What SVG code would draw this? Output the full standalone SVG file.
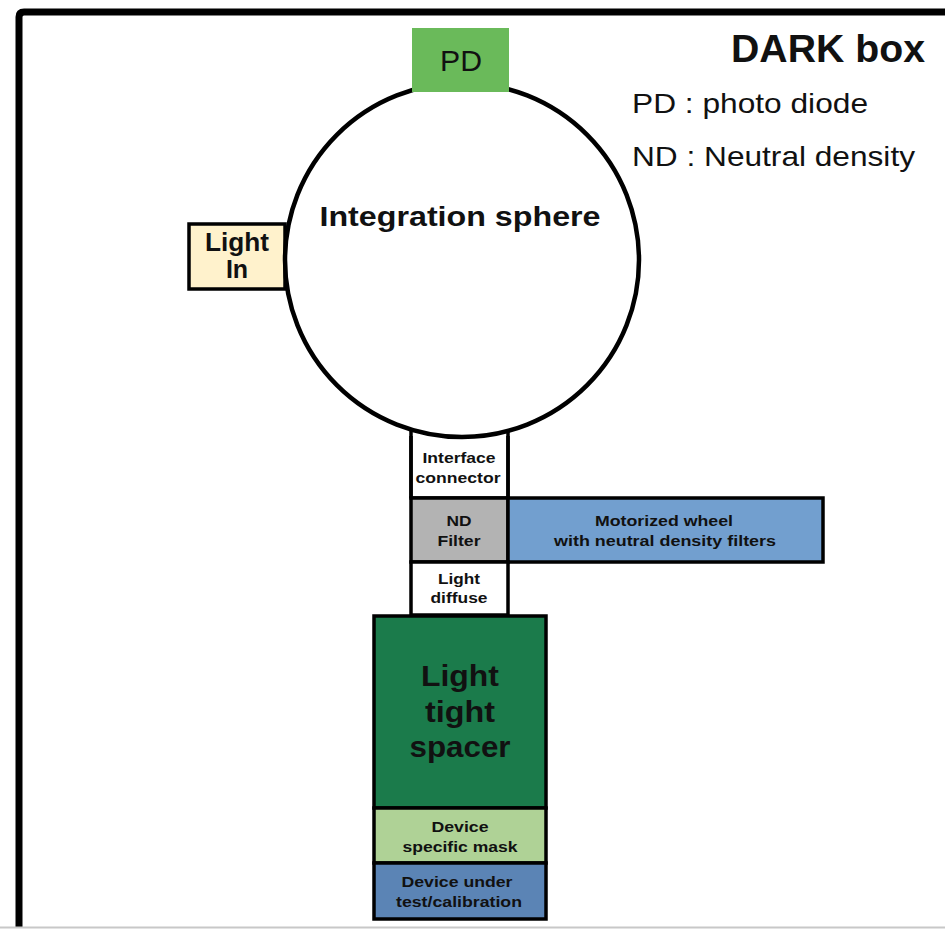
<svg xmlns="http://www.w3.org/2000/svg" width="945" height="929" viewBox="0 0 945 929">
  <style>
    text { font-family: "Liberation Sans", Arial, sans-serif; fill: #111; text-anchor: middle; }
    .b { font-weight: bold; }
    .box { stroke: #000; stroke-width: 3.5; }
    .legend { text-anchor: start; font-size: 28px; }
  </style>

  <rect x="0" y="0" width="945" height="929" fill="#fff"/>

  <!-- dark box enclosure -->
  <g id="frame">
    <path d="M19 927 V17 Q19 12 24 12 H945" fill="none" stroke="#000" stroke-width="7"/>
    <line x1="0" y1="927.5" x2="945" y2="927.5" stroke="#c8c8c8" stroke-width="2"/>
  </g>

  <!-- legend -->
  <g id="legend">
    <text class="b" x="731" y="62" style="text-anchor:start;font-size:38px" textLength="194" lengthAdjust="spacingAndGlyphs">DARK box</text>
    <text class="legend" x="632" y="113" textLength="236" lengthAdjust="spacingAndGlyphs">PD : photo diode</text>
    <text class="legend" x="632" y="166" textLength="283" lengthAdjust="spacingAndGlyphs">ND : Neutral density</text>
  </g>

  <!-- light input port -->
  <g id="light-in">
    <rect class="box" x="189" y="224" width="96" height="65" fill="#fff2cc"/>
    <text class="b" x="237" y="251" style="font-size:25px" textLength="64" lengthAdjust="spacingAndGlyphs">Light</text>
    <text class="b" x="237" y="278" style="font-size:25px">In</text>
  </g>

  <!-- interface connector (drawn under the sphere) -->
  <g id="interface-connector">
    <rect class="box" x="411" y="420" width="97" height="78" fill="#fff"/>
  </g>

  <!-- integration sphere -->
  <g id="integration-sphere">
    <circle cx="462" cy="260" r="177" fill="#fff" stroke="#000" stroke-width="4.5"/>
    <text class="b" x="460" y="226" style="font-size:27px" textLength="281" lengthAdjust="spacingAndGlyphs">Integration sphere</text>
  </g>

  <!-- photodiode -->
  <g id="pd">
    <rect x="412" y="28" width="97" height="64" fill="#6aba5a"/>
    <text x="461" y="71" style="font-size:29px" textLength="42" lengthAdjust="spacingAndGlyphs">PD</text>
  </g>

  <g id="interface-connector-label">
    <line x1="411" y1="436" x2="411" y2="498" stroke="#000" stroke-width="3.5"/>
    <line x1="508" y1="436" x2="508" y2="498" stroke="#000" stroke-width="3.5"/>
    <text class="b" x="459" y="463" style="font-size:15px" textLength="73" lengthAdjust="spacingAndGlyphs">Interface</text>
    <text class="b" x="458" y="483" style="font-size:15px" textLength="85" lengthAdjust="spacingAndGlyphs">connector</text>
  </g>

  <!-- ND filter -->
  <g id="nd-filter">
    <rect class="box" x="411" y="498" width="97" height="64" fill="#b3b3b3"/>
    <text class="b" x="459" y="526" style="font-size:15px" textLength="25" lengthAdjust="spacingAndGlyphs">ND</text>
    <text class="b" x="459" y="546" style="font-size:15px" textLength="43" lengthAdjust="spacingAndGlyphs">Filter</text>
  </g>

  <!-- motorized wheel -->
  <g id="motorized-wheel">
    <rect class="box" x="508" y="498" width="315" height="64" fill="#729fcf"/>
    <text class="b" x="664" y="526" style="font-size:15px" textLength="138" lengthAdjust="spacingAndGlyphs">Motorized wheel</text>
    <text class="b" x="665" y="546" style="font-size:15px" textLength="222" lengthAdjust="spacingAndGlyphs">with neutral density filters</text>
  </g>

  <!-- light diffuser -->
  <g id="light-diffuse">
    <rect class="box" x="411" y="562" width="97" height="53" fill="#fff"/>
    <text class="b" x="459" y="584" style="font-size:15px" textLength="42" lengthAdjust="spacingAndGlyphs">Light</text>
    <text class="b" x="459" y="603" style="font-size:15px" textLength="57" lengthAdjust="spacingAndGlyphs">diffuse</text>
  </g>

  <!-- light tight spacer -->
  <g id="light-tight-spacer">
    <rect class="box" x="374" y="616" width="172" height="192" fill="#1b7b4b"/>
    <text class="b" x="460" y="686" style="font-size:30px" textLength="78" lengthAdjust="spacingAndGlyphs">Light</text>
    <text class="b" x="460" y="722" style="font-size:30px" textLength="70" lengthAdjust="spacingAndGlyphs">tight</text>
    <text class="b" x="460" y="757" style="font-size:30px" textLength="101" lengthAdjust="spacingAndGlyphs">spacer</text>
  </g>

  <!-- device specific mask -->
  <g id="device-mask">
    <rect class="box" x="374" y="808" width="172" height="55" fill="#afd296"/>
    <text class="b" x="460" y="832" style="font-size:15.5px" textLength="57" lengthAdjust="spacingAndGlyphs">Device</text>
    <text class="b" x="460" y="852" style="font-size:15.5px" textLength="115" lengthAdjust="spacingAndGlyphs">specific mask</text>
  </g>

  <!-- device under test -->
  <g id="device-under-test">
    <rect class="box" x="374" y="863" width="172" height="56" fill="#5b84b5"/>
    <text class="b" x="457" y="887" style="font-size:15.5px" textLength="111" lengthAdjust="spacingAndGlyphs">Device under</text>
    <text class="b" x="459" y="907" style="font-size:15.5px" textLength="126" lengthAdjust="spacingAndGlyphs">test/calibration</text>
  </g>
</svg>
